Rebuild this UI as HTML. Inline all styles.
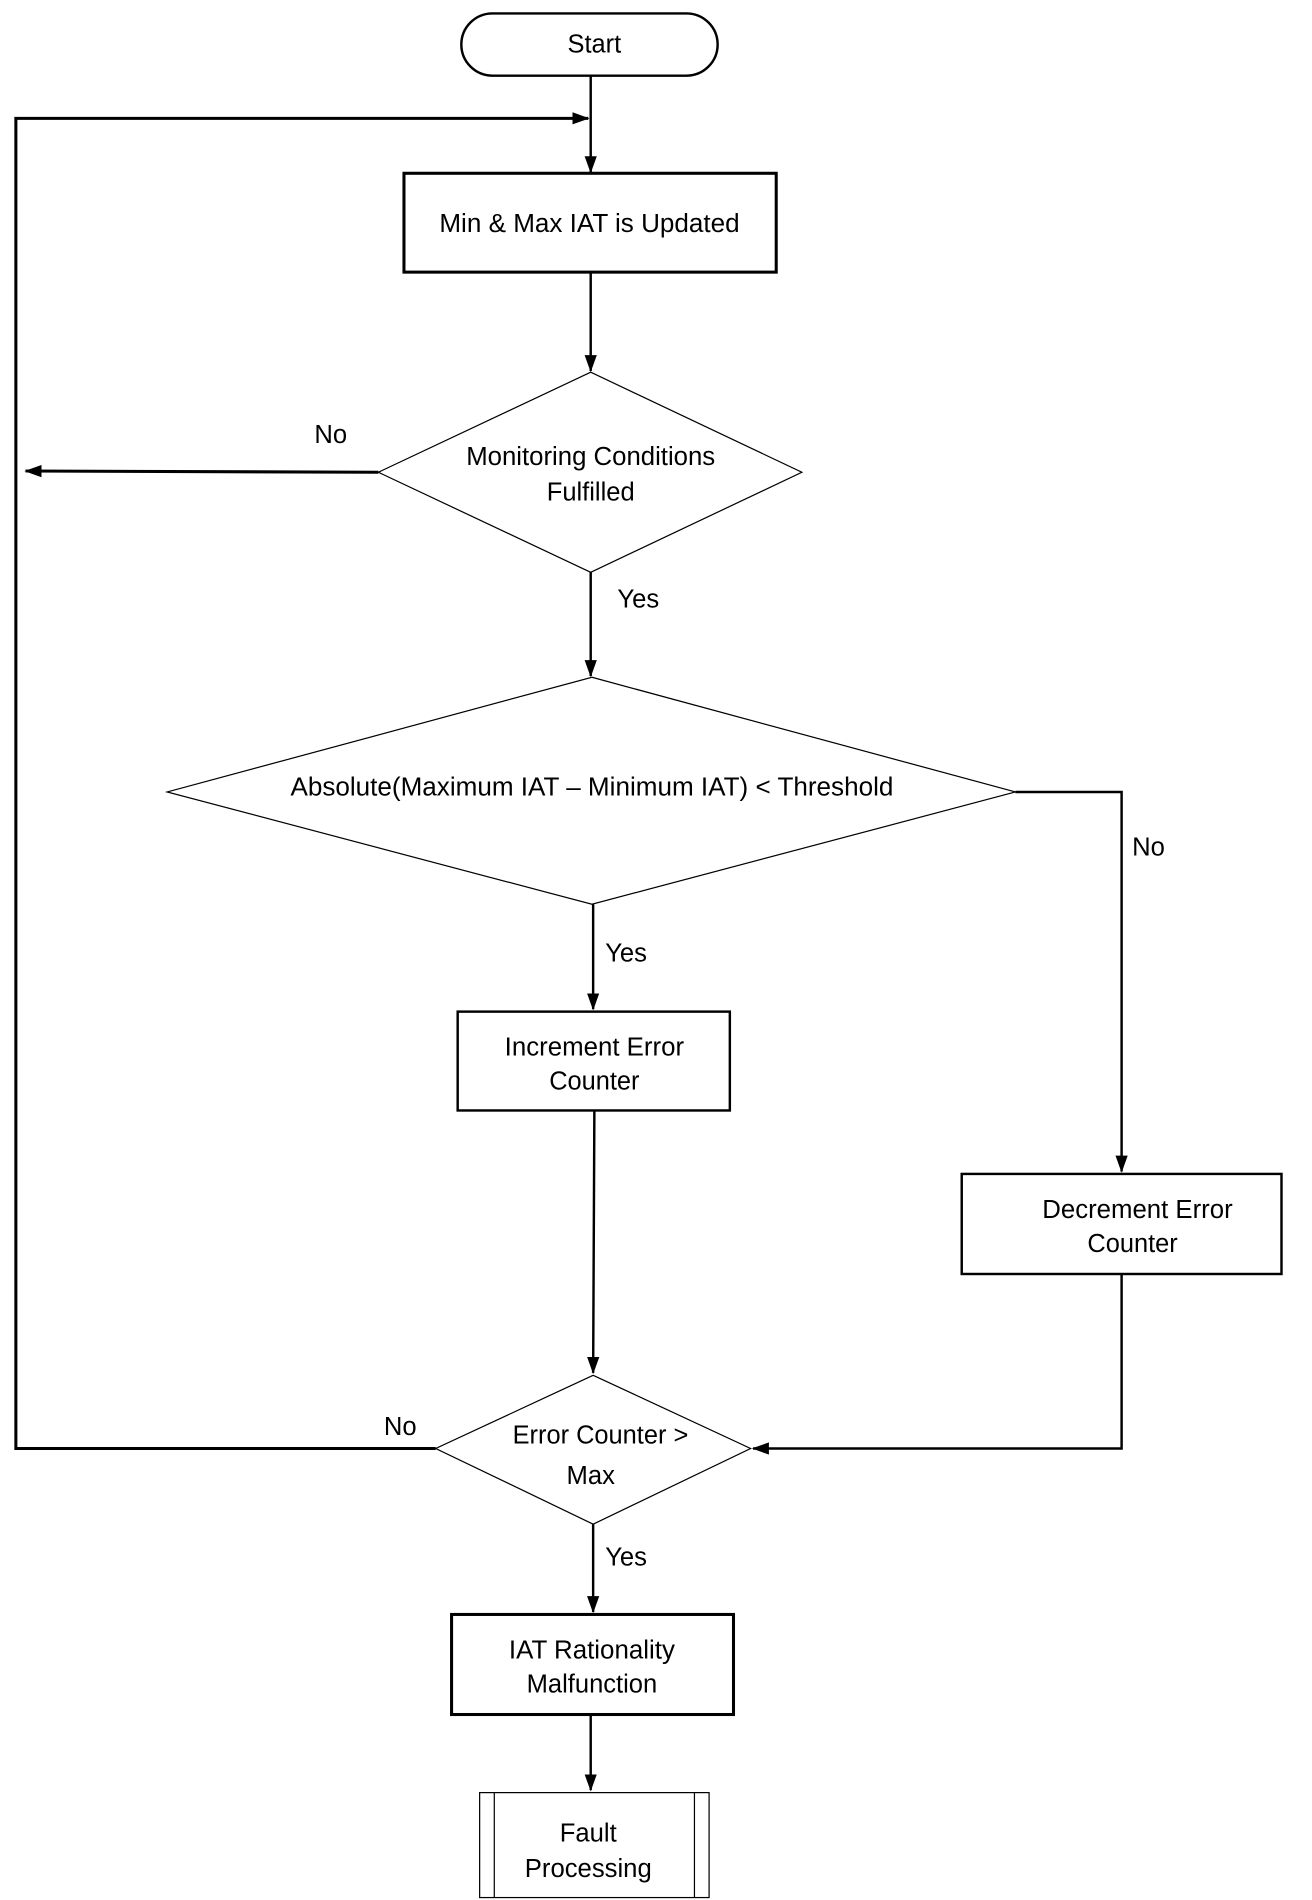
<!DOCTYPE html>
<html><head><meta charset="utf-8"><style>html,body{margin:0;padding:0;background:#fff}svg{display:block}</style></head>
<body>
<svg width="1312" height="1900" viewBox="0 0 1075 1557" preserveAspectRatio="none" xmlns="http://www.w3.org/2000/svg">
<defs>
<marker id="a" markerWidth="14" markerHeight="12" refX="13" refY="6" orient="auto" markerUnits="userSpaceOnUse">
<path d="M0,1 L14,6 L0,11 Z" fill="#000"/></marker>
</defs>
<g fill="none" stroke="#000">
<rect x="378" y="11" width="210" height="51" rx="25.5" stroke-width="2"/>
<line x1="484" y1="62" x2="484" y2="141" stroke-width="2" marker-end="url(#a)"/>
<polyline points="357,1187 13,1187 13,97 482,97" stroke-width="2.5" marker-end="url(#a)"/>
<rect x="331" y="142" width="305" height="81" stroke-width="2.5"/>
<line x1="484" y1="223" x2="484" y2="304" stroke-width="2" marker-end="url(#a)"/>
<polygon points="484,305 657,387 484,469 310,387" stroke-width="1"/>
<line x1="310" y1="387" x2="21" y2="386" stroke-width="2.5" marker-end="url(#a)"/>
<line x1="484" y1="469" x2="484" y2="554" stroke-width="2" marker-end="url(#a)"/>
<polygon points="485,555 832,649 485,741 137,649" stroke-width="1"/>
<polyline points="832,649 919,649 919,960" stroke-width="2" marker-end="url(#a)"/>
<line x1="486" y1="741" x2="486" y2="827" stroke-width="2" marker-end="url(#a)"/>
<rect x="375" y="829" width="223" height="81" stroke-width="2"/>
<line x1="487" y1="910" x2="486" y2="1125" stroke-width="2" marker-end="url(#a)"/>
<rect x="788" y="962" width="262" height="82" stroke-width="2"/>
<polyline points="919,1044 919,1187 617,1187" stroke-width="2" marker-end="url(#a)"/>
<polygon points="486,1127 615,1187 486,1249 357,1187" stroke-width="1"/>
<line x1="486" y1="1249" x2="486" y2="1321" stroke-width="2" marker-end="url(#a)"/>
<rect x="370" y="1323" width="231" height="82" stroke-width="2.5"/>
<line x1="484" y1="1405" x2="484" y2="1467" stroke-width="2" marker-end="url(#a)"/>
<rect x="393" y="1469" width="188" height="86" stroke-width="1"/>
<line x1="405" y1="1469" x2="405" y2="1555" stroke-width="1"/>
<line x1="569" y1="1469" x2="569" y2="1555" stroke-width="1"/>
</g>
<g font-family="Liberation Sans, sans-serif" font-size="21" fill="#000" text-anchor="middle">
<text x="487" y="43" textLength="44" lengthAdjust="spacingAndGlyphs">Start</text>
<text x="483" y="190" textLength="246" lengthAdjust="spacingAndGlyphs">Min &amp; Max IAT is Updated</text>
<text x="484" y="381" textLength="204" lengthAdjust="spacingAndGlyphs">Monitoring Conditions</text>
<text x="484" y="410" textLength="72" lengthAdjust="spacingAndGlyphs">Fulfilled</text>
<text x="271" y="363">No</text>
<text x="523" y="498">Yes</text>
<text x="485" y="652" textLength="494" lengthAdjust="spacingAndGlyphs">Absolute(Maximum IAT – Minimum IAT) &lt; Threshold</text>
<text x="941" y="701">No</text>
<text x="513" y="788">Yes</text>
<text x="487" y="865" textLength="147" lengthAdjust="spacingAndGlyphs">Increment Error</text>
<text x="487" y="893" textLength="74" lengthAdjust="spacingAndGlyphs">Counter</text>
<text x="932" y="998" textLength="156" lengthAdjust="spacingAndGlyphs">Decrement Error</text>
<text x="928" y="1026" textLength="74" lengthAdjust="spacingAndGlyphs">Counter</text>
<text x="492" y="1183" textLength="144" lengthAdjust="spacingAndGlyphs">Error Counter &gt;</text>
<text x="484" y="1216">Max</text>
<text x="328" y="1176">No</text>
<text x="513" y="1283">Yes</text>
<text x="485" y="1359" textLength="136" lengthAdjust="spacingAndGlyphs">IAT Rationality</text>
<text x="485" y="1387" textLength="107" lengthAdjust="spacingAndGlyphs">Malfunction</text>
<text x="482" y="1509">Fault</text>
<text x="482" y="1538" textLength="104" lengthAdjust="spacingAndGlyphs">Processing</text>
</g>
</svg>
</body></html>
